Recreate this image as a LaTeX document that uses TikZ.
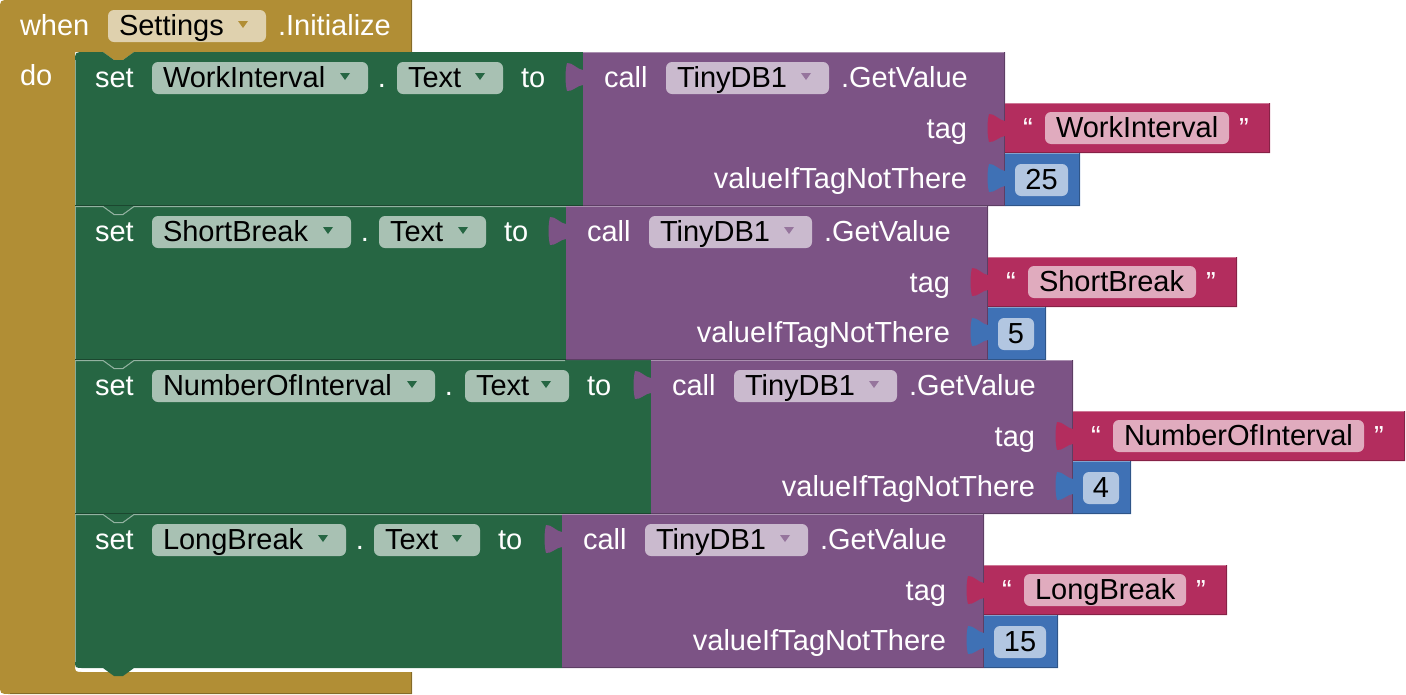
\documentclass[tikz,border=0pt]{standalone}
\usepackage{fontspec}
\setmainfont{Liberation Sans}
\definecolor{gold}{HTML}{B18E35}
\definecolor{grn}{HTML}{266643}
\definecolor{pur}{HTML}{7C5385}
\definecolor{txr}{HTML}{B32D5E}
\definecolor{blu}{HTML}{3F71B5}
\tikzset{
  lbl/.style={anchor=base west, inner sep=0pt, outer sep=0pt, text=white, font=\fontsize{29}{34}\selectfont},
  lble/.style={lbl, anchor=base east},
  lblc/.style={lbl, anchor=base},
  fld/.style={lbl, text=black},
  fldc/.style={lblc, text=black},
  fieldbg/.style={fill=white, fill opacity=0.6, rounded corners=6pt},
}
% block with an output tab on its left edge: x1, ytop, x2, ybottom, colour
\newcommand{\tabblock}[5]{%
  \fill[#5] (#1,#2) -- (#3,#2) -- (#3,#4) -- (#1,#4) -- (#1,#2+33)
    .. controls (#1-5,#2+33) and (#1-11,#2+40) .. (#1-16,#2+39)
    .. controls (#1-18,#2+31) and (#1-18,#2+19) .. (#1-16,#2+11)
    .. controls (#1-11,#2+10) and (#1-5,#2+18) .. (#1,#2+18) -- cycle;
  \draw[#5!65!white, line width=1.2pt] (#1,#2+0.6) -- (#3,#2+0.6);
  \draw[#5!75!black, line width=1.2pt] (#1,#4-0.6) -- (#3-0.6,#4-0.6) -- (#3-0.6,#2);
}
% rounded field: name, x1, x2, ytop, text
\newcommand{\fieldbox}[5]{%
  \fill[fieldbg] (#2,#4) rectangle (#3,#4+32);
  \node[fld] (#1) at (#2+11,#4+25) {#5};
}
% dropdown arrow: field right x, field top y, colour
\newcommand{\ddarrow}[3]{%
  \fill[#3] (#1-28,#2+11) -- (#1-18,#2+11) -- (#1-23,#2+18) -- cycle;
}
\begin{document}
\begin{tikzpicture}[x=1pt, y=-1pt]
\useasboundingbox (0,0) rectangle (1406,694);
% ---- event block (gold C shape)
\fill[gold] (0,10) .. controls (0,0) .. (10,0) -- (412,0) -- (412,52)
  -- (134,52) -- (123,60) -- (114,60) -- (103,52) -- (75,52) -- (75,664)
  .. controls (75,672) .. (83,672) -- (412,672) -- (412,694) -- (10,694)
  .. controls (0,694) .. (0,684) -- cycle;
\draw[gold!75!black, line width=1.2pt] (411.4,0) -- (411.4,52);
\draw[gold!75!black, line width=1.2pt] (10,693.4) -- (411.4,693.4) -- (411.4,672);
\node[lbl] (when) at (20,35) {when};
\fieldbox{settings}{108}{266}{10}{Settings}
\ddarrow{266}{10}{gold}
\node[lbl] (init) at (278,35) {.Initialize};
\node[lbl] (do) at (20,85) {do};
% ---- green set blocks
\fill[grn] (75,62) .. controls (75,52) .. (85,52) -- (103,52) -- (114,60) -- (123,60) -- (134,52)
  -- (583,52) -- (583,206) -- (134,206) -- (123,214) -- (114,214) -- (103,206) -- (75,206) -- cycle;
\fill[grn] (75,206) -- (103,206) -- (114,214) -- (123,214) -- (134,206)
  -- (566,206) -- (566,360) -- (134,360) -- (123,368) -- (114,368) -- (103,360) -- (75,360) -- cycle;
\fill[grn] (75,360) -- (103,360) -- (114,368) -- (123,368) -- (134,360)
  -- (651,360) -- (651,514) -- (134,514) -- (123,522) -- (114,522) -- (103,514) -- (75,514) -- cycle;
\fill[grn] (75,514) -- (103,514) -- (114,522) -- (123,522) -- (134,514)
  -- (562,514) -- (562,668) -- (134,668) -- (123,676) -- (114,676) -- (103,668) -- (83,668)
  .. controls (75,668) .. (75,660) -- cycle;
\draw[grn!55!white, line width=1pt] (75.5,60) -- (75.5,662);
\foreach \T/\Gp in {206/583, 360/566, 514/651}{
  \draw[grn!70!black, line width=1pt] (75,\T-0.5) -- (\Gp,\T-0.5);
  \draw[grn!50!white, line width=1pt] (75,\T+0.5) -- (103,\T+0.5) -- (114,\T+8.5) -- (123,\T+8.5) -- (134,\T+0.5) -- (\Gp-1,\T+0.5);
}
% ---- rows
\foreach \T/\G/\C/\Da/\Db/\comp/\R/\BR/\num/\i in {
  52/583/368/397/503/WorkInterval/1270/1080/25/1,
  206/566/351/379/486/ShortBreak/1237/1046/5/2,
  360/651/435/465/569/NumberOfInterval/1405/1131/4/3,
  514/562/346/374/480/LongBreak/1227/1058/15/4}{
  % set block content
  \node[lbl] (set\i) at (95,\T+35) {set};
  \fieldbox{comp\i}{152}{\C}{\T+10}{\comp}
  \ddarrow{\C}{\T+10}{grn}
  \node[lblc] (dot\i) at (\C+14,\T+35) {.};
  \fieldbox{prop\i}{\Da}{\Db}{\T+10}{Text}
  \ddarrow{\Db}{\T+10}{grn}
  \node[lbl] (to\i) at (\Db+18,\T+35) {to};
  % call block
  \tabblock{\G}{\T}{\G+422}{\T+154}{pur}
  \node[lbl] (call\i) at (\G+21,\T+35) {call};
  \fieldbox{db\i}{\G+83}{\G+246}{\T+10}{TinyDB1}
  \ddarrow{\G+246}{\T+10}{pur!80!white}
  \node[lbl] (get\i) at (\G+258,\T+35) {.GetValue};
  \node[lble] (tag\i) at (\G+384,\T+86) {tag};
  \node[lble] (vin\i) at (\G+384,\T+136) {valueIfTagNotThere};
  % text block
  \tabblock{\G+422}{\T+51}{\R}{\T+101}{txr}
  \node[lblc] (oq\i) at (\G+445,\T+86) {“};
  \fieldbox{str\i}{\G+462}{\R-41}{\T+60}{\comp}
  \node[lblc] (cq\i) at (\R-26,\T+86) {”};
  % number block
  \tabblock{\G+422}{\T+101}{\BR}{\T+154}{blu}
  \fill[fieldbg] (\G+432,\T+112) rectangle (\BR-12,\T+144);
  \node[fldc] (num\i) at ({(\G+432+\BR-12)/2},\T+137) {\num};
}
\end{tikzpicture}
\end{document}
